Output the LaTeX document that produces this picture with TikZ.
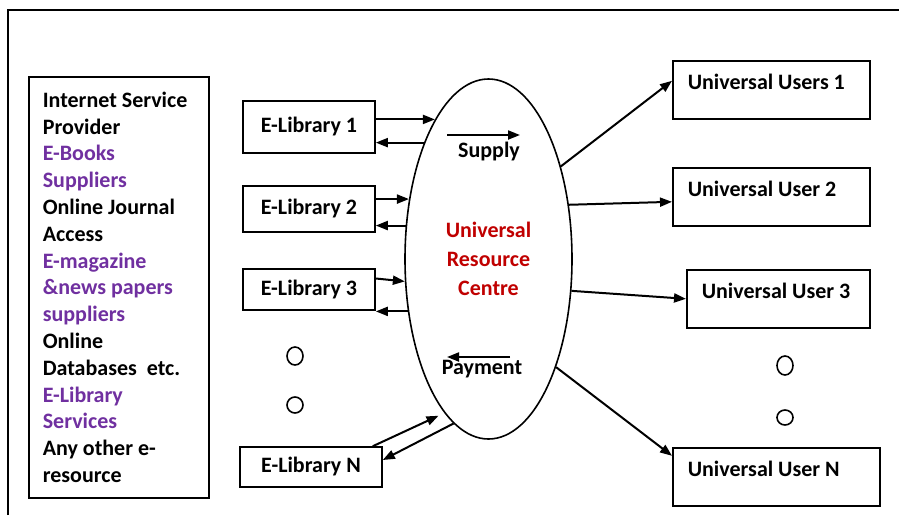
\documentclass[tikz,border=0pt]{standalone}
\usepackage{fontspec}
\setmainfont{Carlito}
\usetikzlibrary{arrows.meta}
\usetikzlibrary{shapes.geometric}

\definecolor{urcred}{HTML}{C00000}
\definecolor{srcpurple}{HTML}{7030A0}

\tikzset{
    every node/.style={font=\bfseries\fontsize{11}{13.4}\selectfont},
    box/.style={draw, line width=0.8pt, inner sep=0pt},
    userbox/.style={draw, line width=0.8pt, anchor=north west, align=flush left,
        inner xsep=7.5pt, inner ysep=4pt, text height=10.5pt, text depth=10.5pt},
    flow/.style={-{Triangle[length=6pt,width=4.5pt]}, line width=1pt},
}

\begin{document}
\begin{tikzpicture}[x=0.5pt, y=-0.5pt]
        \useasboundingbox (0,0) rectangle (899,515);
        \draw[line width=0.8pt] (8,515) -- (8,10) -- (899,10);

        \node[box, anchor=north west, text width=76pt, inner xsep=7pt, minimum height=210.5pt, align=flush left] (src) at (28,76) {Internet Service\\
            Provider\\
            \textcolor{srcpurple}{E-Books}\\
            \textcolor{srcpurple}{Suppliers}\\
            Online Journal\\
            Access\\
            \textcolor{srcpurple}{E-magazine}\\
            \textcolor{srcpurple}{\&news papers}\\
            \textcolor{srcpurple}{suppliers}\\
            Online\\
            Databases\ \ etc.\\
            \textcolor{srcpurple}{E-Library}\\
            \textcolor{srcpurple}{Services}\\
            Any other e-\\
            resource};

        \node[box, minimum width=66pt, minimum height=26pt] (elib1) at (309,127) {E-Library 1};
        \node[box, minimum width=66pt, minimum height=23pt] (elib2) at (309,209) {E-Library 2};
        \node[box, minimum width=66pt, minimum height=20.5pt] (elib3) at (309,289.5) {E-Library 3};
        \node[box, minimum width=71pt, minimum height=20pt] (elibN) at (311,467) {E-Library N};

        \node[draw, ellipse, line width=0.8pt, minimum width=83.5pt, minimum height=180pt, inner sep=0pt,
            text=urcred, align=center, font=\bfseries\fontsize{11}{14.5}\selectfont] (urc) at (488.5,259) {Universal\\Resource\\Centre};

        \node (supply) at (489,152) {Supply};
        \node (payment) at (482,369) {Payment};
        \coordinate (supplyL) at (447,135);
        \coordinate (supplyR) at (520,135);
        \coordinate (payR) at (510,357);
        \coordinate (payL) at (447,357);
        \draw[flow] (supplyL) to (supplyR);
        \draw[flow] (payR) to (payL);

        \node[userbox, text width=83.5pt] (user1) at (672,60) {Universal Users 1};
        \node[userbox, text width=83.5pt] (user2) at (672,167) {Universal User 2};
        \node[userbox, text width=76.5pt] (user3) at (686,269) {Universal User 3};
        \node[userbox, text width=88.5pt] (userN) at (672,447) {Universal User N};

        \draw[flow] (elib1.east |- urc.111) to (urc.111);
        \draw[flow] (urc.119) to (elib1.east |- urc.119);
        \draw[flow] (elib2.east |- urc.143) to (urc.143);
        \draw[flow] (urc.158) to (elib2.east |- urc.158);
        \draw[flow] ([yshift=5.5pt]elib3.east) to (urc.195);
        \draw[flow] (urc.213) to (elib3.east |- urc.213);
        \draw[flow] ([xshift=-5pt]elibN.north east) to ([xshift=-4pt]urc.255);
        \draw[flow] (urc.258) to ([yshift=3.5pt]elibN.east);

        \draw[flow] (urc.52) to ([yshift=4.5pt]user1.west);
        \draw[flow] (urc.34) to ([yshift=-2.5pt]user2.west);
        \draw[flow] (urc.339) to (user3.west);
        \draw[flow] (urc.302) to ([yshift=10.5pt]userN.west);

        \draw[line width=0.8pt] (295,356) ellipse [x radius=4pt, y radius=4.5pt];
        \draw[line width=0.8pt] (295,405) ellipse [x radius=4pt, y radius=4pt];
        \draw[line width=0.8pt] (785,365.5) ellipse [x radius=4pt, y radius=4.75pt];
        \draw[line width=0.8pt] (785,417.5) ellipse [x radius=4pt, y radius=3.75pt];
    \end{tikzpicture}
\end{document}
